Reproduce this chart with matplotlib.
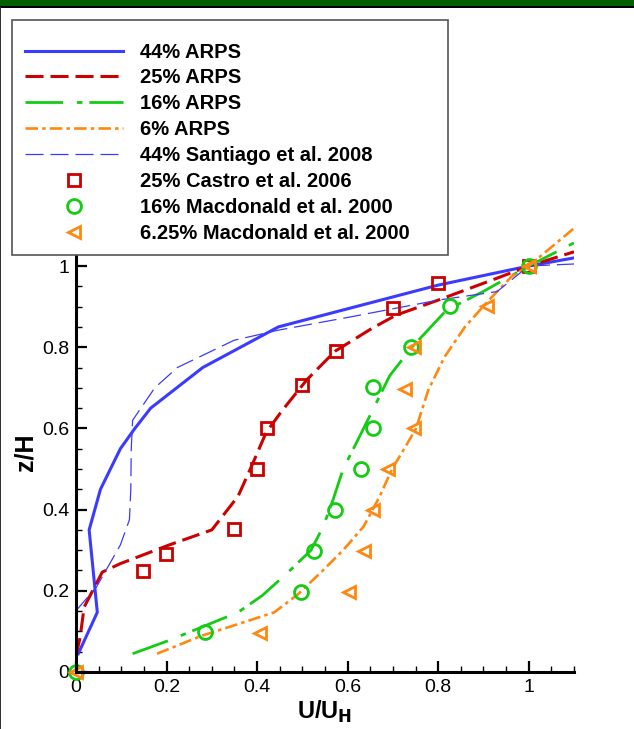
import matplotlib
matplotlib.use('Agg')
import matplotlib.pyplot as plt
from matplotlib.patches import Rectangle
from matplotlib.ticker import MultipleLocator, FormatStrFormatter

plt.rcParams['font.family'] = ['Liberation Sans', 'DejaVu Sans']
plt.rcParams['lines.scale_dashes'] = False

# profiles U/U_H vs z/H
arps44_u = [0.005, 0.047, 0.029, 0.054, 0.098, 0.13, 0.165, 0.28, 0.447, 0.8, 1.0, 1.1]
arps44_z = [0.045, 0.147, 0.35, 0.45, 0.55, 0.6, 0.65, 0.75, 0.85, 0.953, 1.0, 1.02]

arps25_u = [0.0, 0.009, 0.018, 0.058, 0.098, 0.206, 0.3, 0.358, 0.385, 0.42, 0.456, 0.51, 0.572, 0.653, 0.707, 0.8, 0.93, 1.0, 1.1]
arps25_z = [0.04, 0.085, 0.16, 0.246, 0.267, 0.313, 0.35, 0.433, 0.5, 0.59, 0.645, 0.72, 0.79, 0.846, 0.879, 0.916, 0.97, 1.0, 1.035]

arps16_u = [0.125, 0.206, 0.358, 0.411, 0.465, 0.519, 0.546, 0.568, 0.59, 0.62, 0.653, 0.693, 0.742, 0.818, 0.899, 1.0, 1.1]
arps16_z = [0.045, 0.078, 0.147, 0.188, 0.242, 0.3, 0.358, 0.425, 0.5, 0.566, 0.64, 0.73, 0.8, 0.891, 0.937, 1.0, 1.057]

arps6_u = [0.179, 0.277, 0.358, 0.438, 0.492, 0.546, 0.59, 0.635, 0.671, 0.698, 0.725, 0.751, 0.778, 0.814, 0.859, 0.912, 0.962, 1.0, 1.1]
arps6_z = [0.045, 0.089, 0.118, 0.147, 0.193, 0.251, 0.3, 0.358, 0.433, 0.5, 0.55, 0.6, 0.694, 0.776, 0.85, 0.916, 0.974, 1.0, 1.093]

santiago_u = [0.0, 0.045, 0.098, 0.118, 0.121, 0.122, 0.125, 0.174, 0.224, 0.349, 0.447, 0.608, 0.8, 0.93, 1.0, 1.1]
santiago_z = [0.151, 0.209, 0.313, 0.375, 0.45, 0.55, 0.62, 0.70, 0.75, 0.817, 0.842, 0.875, 0.916, 0.937, 1.0, 1.005]

castro_u = [0.149, 0.199, 0.349, 0.399, 0.422, 0.5, 0.575, 0.7, 0.8, 1.0]
castro_z = [0.249, 0.29, 0.353, 0.5, 0.602, 0.708, 0.791, 0.896, 0.957, 1.0]

macd16_u = [0.0, 0.286, 0.496, 0.525, 0.571, 0.629, 0.655, 0.655, 0.74, 0.827, 1.0]
macd16_z = [0.0, 0.099, 0.198, 0.299, 0.4, 0.501, 0.6, 0.702, 0.8, 0.901, 1.0]

macd6_u = [0.0, 0.407, 0.604, 0.635, 0.657, 0.69, 0.747, 0.727, 0.747, 0.908, 1.0]
macd6_z = [0.0, 0.097, 0.198, 0.299, 0.4, 0.501, 0.6, 0.698, 0.8, 0.901, 1.0]

BLUE = '#3b3bff'
RED = '#cc0000'
GREEN = '#14cc14'
ORANGE = '#ff8811'

fig = plt.figure(figsize=(6.34, 7.29), dpi=100)
ax = fig.add_axes([0.1199, 0.0782, 0.7855, 0.6126])

ax.plot(arps44_u, arps44_z, color=BLUE, lw=2.2, label='44% ARPS')
ax.plot(arps25_u, arps25_z, color=RED, lw=2.2, dashes=(13, 5), label='25% ARPS')
ax.plot(arps16_u, arps16_z, color=GREEN, lw=2.0, dashes=(27, 10, 4, 5), label='16% ARPS')
ax.plot(arps6_u, arps6_z, color=ORANGE, lw=1.9, dashes=(9, 3, 2.5, 3), label='6% ARPS')
ax.plot(santiago_u, santiago_z, color=BLUE, lw=0.9, dashes=(13, 5), label='44% Santiago et al. 2008')
ax.plot(castro_u, castro_z, ls='none', marker='s', ms=8, mew=2, mfc='none', mec=RED,
        label='25% Castro et al. 2006', clip_on=False)
ax.plot(macd16_u, macd16_z, ls='none', marker='o', ms=10, mew=2, mfc='none', mec=GREEN,
        label='16% Macdonald et al. 2000', clip_on=False)
ax.plot(macd6_u, macd6_z, ls='none', marker='<', ms=9, mew=2, mfc='none', mec=ORANGE,
        label='6.25% Macdonald et al. 2000', clip_on=False)

ax.set_xlim(0, 1.1)
ax.set_ylim(0, 1.1)
ax.spines['top'].set_visible(False)
ax.spines['right'].set_visible(False)
ax.spines['left'].set_linewidth(2.2)
ax.spines['bottom'].set_linewidth(2.2)
ax.xaxis.set_major_locator(MultipleLocator(0.2))
ax.yaxis.set_major_locator(MultipleLocator(0.2))
ax.xaxis.set_minor_locator(MultipleLocator(0.05))
ax.yaxis.set_minor_locator(MultipleLocator(0.05))
ax.xaxis.set_major_formatter(FormatStrFormatter('%g'))
ax.yaxis.set_major_formatter(FormatStrFormatter('%g'))
ax.tick_params(which='major', direction='in', length=8, width=1.6, labelsize=14, pad=5)
ax.tick_params(which='minor', direction='in', length=4, width=1.0)
ax.set_xlabel('U/U$_\\mathbf{H}$', fontsize=17, fontweight='bold', labelpad=2)
ax.set_ylabel('z/H', fontsize=18, fontweight='bold')
ax.yaxis.set_label_coords(-0.078, 0.493)

# legend box
fig.patches.append(Rectangle((0.019, 0.650), 0.688, 0.3226, transform=fig.transFigure,
                             facecolor='white', edgecolor='#555555', lw=1.2, zorder=5))
leg = fig.legend(loc='upper left', bbox_to_anchor=(0.0394, 0.9415), frameon=False,
                 handlelength=4.87, handletextpad=0.83, labelspacing=0.34, borderpad=0,
                 borderaxespad=0, prop={'size': 14.5, 'weight': 'bold'})
leg.set_zorder(6)

# top band of the frame
fig.patches.append(Rectangle((0, 0.9918), 1, 0.0082, transform=fig.transFigure,
                             facecolor='#005f00', edgecolor='none', zorder=7))
fig.patches.append(Rectangle((0, 0.989), 1, 0.003, transform=fig.transFigure,
                             facecolor='black', edgecolor='none', zorder=7))
fig.patches.append(Rectangle((0, 0), 0.002, 0.99, transform=fig.transFigure,
                             facecolor='#333333', edgecolor='none', zorder=7))

fig.savefig('out.png', dpi=100)
